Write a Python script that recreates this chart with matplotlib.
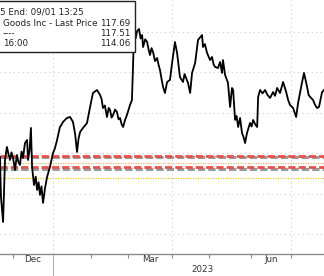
import matplotlib
matplotlib.use("Agg")
import matplotlib.pyplot as plt
from matplotlib.patches import Rectangle

# trading days counted from the first session of 2023 (Jan 3 = 0)
day = [-27.6, -27.1, -26.0, -25.0, -24.0, -23.2, -22.4, -21.6, -20.8, -19.8, -18.8, -18.0, -17.2,
       -16.4, -15.6, -14.6, -13.5, -13.0, -12.2, -11.5, -10.9, -9.9, -9.0, -8.3, -7.5, -6.8, -6.0, -5.2,
       -4.2, -3.1, -1.6, 0.0, 1.0, 2.1, 3.6, 4.4, 5.2, 6.2, 7.3, 8.9, 10.4, 11.5, 12.5,
       13.3, 14.1, 15.6, 16.6, 17.7, 19.3, 20.8, 22.9, 23.7, 24.5, 25.3, 26.0, 27.0, 28.1, 29.0, 29.7,
       30.5, 31.3, 32.3, 33.3, 34.1, 34.9, 35.7, 36.5, 37.5, 38.5, 40.1, 41.1, 42.2, 43.0, 43.8, 44.8,
       45.6, 46.4, 46.9, 48.0, 49.0, 49.8, 50.5, 51.3, 52.1, 53.1, 54.2, 55.0, 55.7, 56.5, 57.3, 58.3, 59.4,
       60.9, 62.0, 63.5, 64.6, 65.4, 66.1, 67.7, 68.5, 69.3, 70.3, 71.4, 72.4,
       74.0, 75.5, 76.5, 77.6, 78.1, 79.1, 80.2, 81.8, 82.8, 83.6, 84.4, 85.9, 87.0,
       88.0, 88.5, 89.6, 91.1, 92.2, 93.2, 93.8, 94.8, 95.6, 96.4, 97.4,
       98.4, 99.2, 100.0, 101.0, 102.6, 103.4, 104.2, 105.2, 106.3, 106.8, 107.8, 109.1, 110.4, 111.7, 113.0,
       114.6, 115.6, 116.7, 118.2, 119.8, 121.4, 122.4, 123.4, 125.0, 126.6, 127.6, 129.7,
       130.7, 132.3, 133.1, 133.9, 135.4, 136.4, 137.5, 138.5, 140.1, 141.1]
price = [109.53, 104.58, 101.49, 109.16, 110.77, 109.90, 109.16, 110.10, 109.41, 107.92, 109.78, 108.90, 108.54,
         110.20, 109.41, 111.26, 111.63, 109.16, 110.40, 113.12, 108.29, 106.06, 107.10, 105.45, 106.40, 104.83, 105.90, 103.84,
         105.60, 107.05, 108.29, 110.02, 110.60, 111.63, 113.24, 113.50, 113.86, 114.10, 114.36, 114.48, 113.86, 112.40, 110.15,
         111.80, 112.62, 113.12, 113.40, 113.74, 115.72, 117.45, 117.82, 117.50, 117.20, 116.70, 115.59, 115.90, 114.48, 115.60, 115.35,
         114.40, 114.73, 115.40, 115.10, 114.20, 114.36, 113.60, 113.24, 114.10, 114.73, 115.97, 116.58, 124.88, 124.20, 125.12, 125.37,
         124.20, 124.63, 123.14, 124.10, 123.76, 122.80, 122.15, 123.00, 122.52, 121.40, 121.78, 120.90, 120.30, 119.20, 118.19, 117.45, 118.81,
         119.06, 121.16, 123.76, 122.40, 120.80, 119.43, 118.81, 119.80, 119.31, 118.69, 117.45, 119.93,
         121.16, 124.01, 124.30, 124.63, 123.14, 123.50, 122.40, 121.53, 121.91, 121.00, 120.67, 120.54, 121.29,
         119.93, 121.53, 119.68, 118.69, 115.72, 118.07, 117.82, 114.11, 114.60, 113.24, 114.36,
         112.50, 112.00, 111.26, 112.50, 113.74, 113.30, 114.11, 113.60, 113.24, 116.96, 117.82, 117.40, 117.82, 117.20, 116.83,
         117.57, 117.10, 118.07, 117.45, 118.81, 117.57, 116.60, 115.97, 115.59, 114.48, 116.21, 118.81,
         119.93, 118.19, 117.20, 116.96, 116.58, 116.00, 115.59, 115.72, 117.57, 117.82]

# month starts in trading days
month_start = [-21, 20, 39, 62, 81, 103, 124]
quarter_start = [0, 62, 124]
month_labels = ["Dec", "Mar", "Jun"]
month_label_pos = [-10.5, 50.5, 113.5]
year_label = "2023"

red_levels = [109.65, 108.17]
orange_level = 108.79
yellow_level = 106.93

legend_rows = [("Goods Inc - Last Price", "117.69"), ("----", "117.51"), ("16:00", "114.06")]
legend_head = "5 End: 09/01 13:25"

W, H = 324, 276
fig = plt.figure(figsize=(W / 100, H / 100), dpi=100)
ax = fig.add_axes([0, 22 / H, 1, 1 - 22 / H])
ax.set_xlim(-27.6, 141.1)
ax.set_ylim(97.52, 128.96)

for s in ["top", "left", "right"]:
    ax.spines[s].set_visible(False)
ax.spines["bottom"].set_color("#8a8a8a")
ax.spines["bottom"].set_linewidth(1)

# grid
dot = (0, (1, 3))
for v in [100, 105, 110, 115, 120, 125]:
    ax.axhline(v, color="#cccccc", lw=0.8, ls=dot, zorder=1)
for d in quarter_start:
    ax.axvline(d, color="#cccccc", lw=0.8, ls=dot, zorder=1)

# reference levels
for v in red_levels:
    ax.axhline(v - 0.13, color="#9a9a9a", lw=2.2, ls=(0, (2.4, 1.0)), zorder=2)
    ax.axhline(v + 0.06, color="#e8504a", lw=2.0, ls=(0, (2.6, 1.1)), zorder=3)
ax.axhline(orange_level, color="#f4b27c", lw=0.9, ls=(0, (1, 1)), zorder=2)
ax.axhline(yellow_level, color="#e8cc20", lw=0.9, ls=(0, (1, 1)), zorder=2)

ax.plot(day, price, color="black", lw=1.3, zorder=4)

ax.set_yticks([])
ax.set_xticks(month_start)
ax.set_xticklabels([])
ax.tick_params(axis="x", direction="out", length=3, color="#8a8a8a", width=0.8)
xt = ax.get_xaxis_transform()
for lab, pos in zip(month_labels, month_label_pos):
    ax.text(pos, -6 / 254, lab, transform=xt, ha="center", va="center",
            fontsize=6.3, color="#333333")
ax.text(78, -15 / 254, year_label, transform=xt, ha="center", va="center",
        fontsize=6.3, color="#333333")
# year separator
ax.plot([0, 0], [0, -22 / 254], transform=xt, color="#b0b0b0", lw=0.8, clip_on=False)

# legend box
fig.patches.append(Rectangle((-2 / W, 1 - 52 / H), 137 / W, 51 / H, transform=fig.transFigure,
                             facecolor="white", edgecolor="#222222", lw=1, zorder=10))
fig.text(0, 1 - 12 / H, legend_head, ha="left", va="center", fontsize=6.3, color="#222222", zorder=11)
for k, (name, val) in enumerate(legend_rows):
    y = 1 - (23 + 10.3 * k) / H
    fig.text(3 / W, y, name, ha="left", va="center", fontsize=6.3, color="#222222", zorder=11)
    fig.text(130 / W, y, val, ha="right", va="center", fontsize=6.3, color="#222222", zorder=11)

fig.savefig("out.png", dpi=100)
